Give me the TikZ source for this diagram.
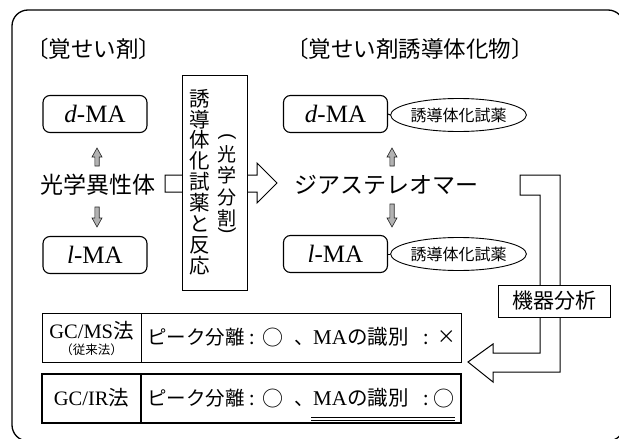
\documentclass[tikz,border=0pt]{standalone}
\usepackage{fontspec}
\usepackage{graphicx}
\setmainfont{Liberation Serif}
\newfontfamily\jp{Noto Sans CJK JP}
\newfontfamily\jpsans{Liberation Sans}
\usetikzlibrary{shapes.geometric}
\newcommand\grayup[3]{%
  \filldraw[fill=gray!60, draw=black!85, line width=0.6pt]
    (#1,#2) -- (#1+5,#2+9) -- (#1+2.2,#2+9) -- (#1+2.2,#3) -- (#1-2.2,#3)
    -- (#1-2.2,#2+9) -- (#1-5,#2+9) -- cycle;}
\newcommand\graydown[3]{%
  \filldraw[fill=gray!60, draw=black!85, line width=0.6pt]
    (#1,#3) -- (#1+5,#3-9) -- (#1+2.2,#3-9) -- (#1+2.2,#2) -- (#1-2.2,#2)
    -- (#1-2.2,#3-9) -- (#1-5,#3-9) -- cycle;}
\tikzset{
  mabox/.style={draw, rounded corners=7pt, line width=1.1pt, minimum width=104pt,
    minimum height=37pt, inner sep=0pt, font=\fontsize{25}{25}\selectfont},
  reag/.style={draw, ellipse, line width=0.9pt, minimum width=113pt, minimum height=33pt,
    inner sep=0pt, font=\jp\fontsize{16}{16}\selectfont},
  bigtxt/.style={inner sep=0pt, font=\jp\fontsize{23}{23}\selectfont},
  headtxt/.style={inner sep=0pt, font=\jp\fontsize{22.5}{22.5}\selectfont},
  rowtxt/.style={inner sep=0pt, font=\jp\fontsize{19.5}{19.5}\selectfont},
  hollow/.style={draw, fill=white, line width=1pt, line join=miter},
}
\begin{document}
\begin{tikzpicture}[x=1pt,y=-1pt]
\useasboundingbox (0,0) rectangle (619,439);
\clip (0,0) rectangle (619,439);
\fill[white] (0,0) rectangle (619,439);
% outer frame
\draw[line width=1.3pt, rounded corners=16pt] (12,10) rectangle (624,441);
% headings
\node[headtxt, anchor=west] (h1) at (26,49) {〔覚せい剤〕};
\node[headtxt, anchor=west] (h2) at (286,49) {〔覚せい剤誘導体化物〕};
% left column
\node[mabox] (dL) at (95,114) {\textit{d}-MA};
\node[mabox] (lL) at (95,255) {\textit{l}-MA};
\node[bigtxt] (iso) at (98,185) {光学異性体};
\grayup{97}{148}{166}
\graydown{97}{207}{227}
% hollow arrow through reaction box
\path[hollow] (165,175) -- (257,175) -- (257,163) -- (277,183) -- (257,203)
  -- (257,192) -- (165,192) -- cycle;
\node[draw, fill=white, line width=1pt, minimum width=65pt, minimum height=215pt,
  inner sep=0pt] (vbox) at (214.5,182.5) {};
\node[inner sep=0pt, align=center, font=\jp\fontsize{20.5}{20.9}\selectfont] (col1) at (200,182)
  {誘\\導\\体\\化\\試\\薬\\と\\反\\応};
\node[inner sep=0pt, align=center, font=\jp\fontsize{19}{21.5}\selectfont] (col2) at (227,186)
  {光\\学\\分\\割};
\node[inner sep=0pt, font=\jpsans\fontsize{19}{19}\selectfont] (pl) at (227,137) {\rotatebox{-90}{(}};
\node[inner sep=0pt, font=\jpsans\fontsize{19}{19}\selectfont] (pr) at (227,231) {\rotatebox{-90}{)}};
% right column
\node[mabox] (dR) at (335.5,114) {\textit{d}-MA};
\node[mabox] (lR) at (335.5,254) {\textit{l}-MA};
\node[reag] (e1) at (458.5,115) {誘導体化試薬};
\node[reag] (e2) at (458.5,254) {誘導体化試薬};
\draw[line width=1pt] (dR.east) -- (e1.west);
\draw[line width=1pt] (lR) -- (e2);
\node[bigtxt] (dia) at (386.5,185) {ジアステレオマー};
\grayup{392}{148}{166}
\graydown{392}{204}{227}
% bent hollow arrow
\path[hollow] (520,175) -- (560,175) -- (560,372) -- (493,372) -- (493,382)
  -- (468,362) -- (493,344) -- (493,353) -- (540,353) -- (540,195) -- (520,195) -- cycle;
\node[draw, fill=white, line width=1pt, minimum width=112pt, minimum height=32pt,
  inner sep=0pt, font=\jp\fontsize{21}{21}\selectfont] (inst) at (554,301) {機器分析};
% rows
\draw[line width=1pt] (42,313) rectangle (461,362);
\draw[line width=1pt] (141,313) -- (141,362);
\draw[line width=1.7pt] (42,374) rectangle (461,423);
\draw[line width=1.2pt] (141,374) -- (141,423);
\node[inner sep=0pt, anchor=base] (gcms) at (91.5,338.5)
  {\fontsize{20.5}{20.5}\selectfont GC/MS{\jp 法}};
\node[inner sep=0pt, anchor=base, font=\jp\fontsize{12.5}{12.5}\selectfont] (conv) at (91.5,354.5) {（従来法）};
\node[inner sep=0pt, anchor=base] (gcir) at (91.5,405.5)
  {\fontsize{20.5}{20.5}\selectfont GC/IR{\jp 法}};
% row 1 text
\node[rowtxt, anchor=base west] (r1a) at (147,344.5) {ピーク分離};
\node[rowtxt, anchor=base west] (r1b) at (249,344.5) {:};
\node[inner sep=0pt, anchor=center, font=\jp\fontsize{21}{21}\selectfont] (r1c) at (273,337.5) {○};
\node[rowtxt, anchor=base west] (r1d) at (294,344.5) {、};
\node[rowtxt, anchor=base west, font=\jp\fontsize{20.5}{20.5}\selectfont] (r1e) at (313,344.5)
  {{\rmfamily\fontsize{21}{21}\selectfont MA}の識別};
\node[rowtxt, anchor=base west] (r1f) at (423,344.5) {:};
\node[inner sep=0pt, anchor=center, font=\jp\fontsize{18.5}{18.5}\selectfont] (r1g) at (446.5,337.5) {×};
% row 2 text
\node[rowtxt, anchor=base west] (r2a) at (147,405.5) {ピーク分離};
\node[rowtxt, anchor=base west] (r2b) at (249,405.5) {:};
\node[inner sep=0pt, anchor=center, font=\jp\fontsize{21}{21}\selectfont] (r2c) at (273,398.5) {○};
\node[rowtxt, anchor=base west] (r2d) at (294,405.5) {、};
\node[rowtxt, anchor=base west, font=\jp\fontsize{20.5}{20.5}\selectfont] (r2e) at (313,405.5)
  {{\rmfamily\fontsize{21}{21}\selectfont MA}の識別};
\node[rowtxt, anchor=base west] (r2f) at (423,405.5) {:};
\node[inner sep=0pt, anchor=center, font=\jp\fontsize{21}{21}\selectfont] (r2g) at (443.5,398.5) {○};
% double underline
\draw[line width=0.9pt] (311,417) -- (455,417);
\draw[line width=0.9pt] (311,420.5) -- (455,420.5);
\end{tikzpicture}
\end{document}
